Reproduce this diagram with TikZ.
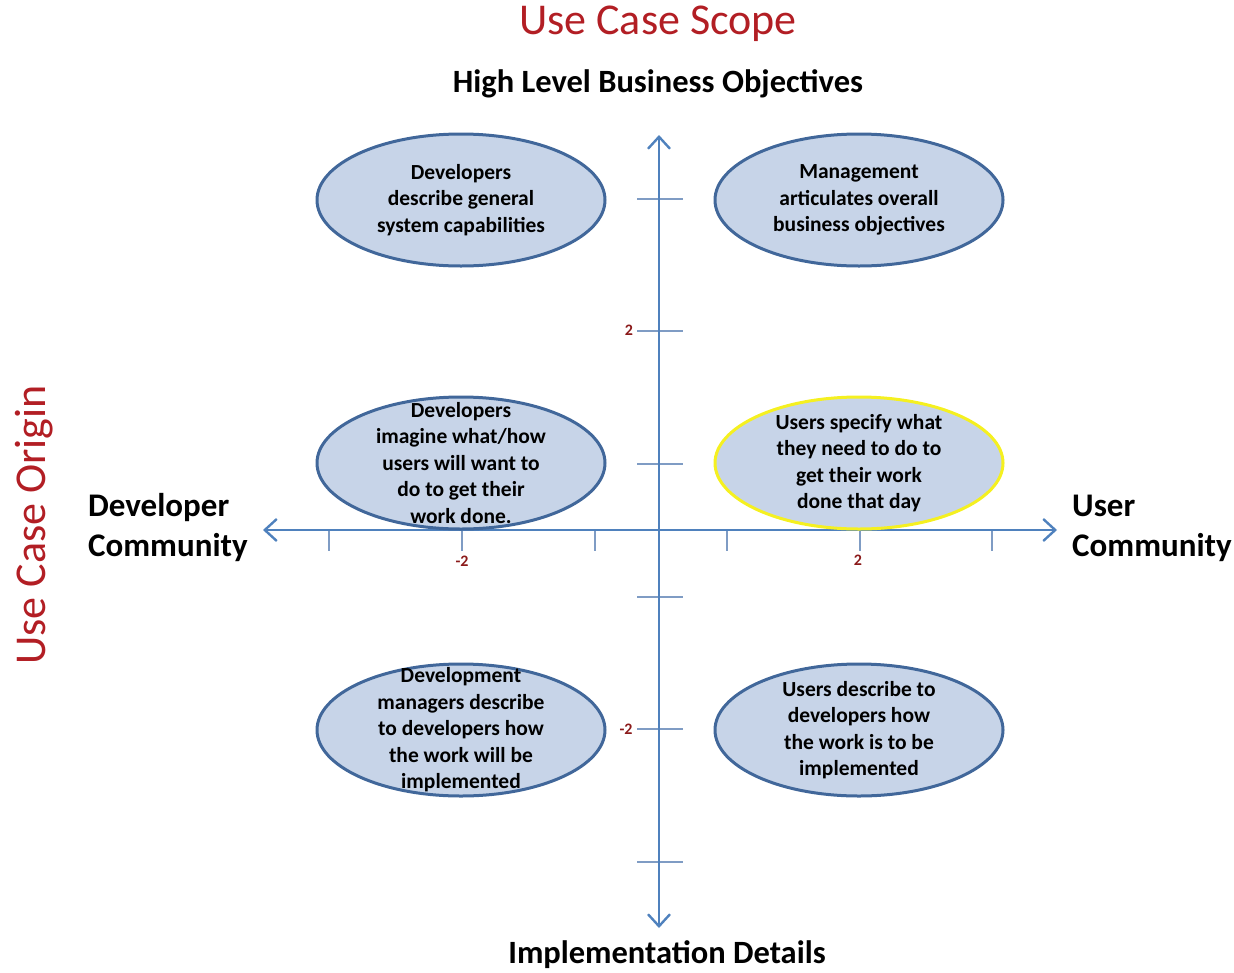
\documentclass[tikz,border=0pt]{standalone}
\usepackage{fontspec}
\setmainfont{Carlito}
\usetikzlibrary{arrows.meta,shapes.geometric}
\definecolor{axisblue}{HTML}{4F81BD}
\definecolor{tickblue}{HTML}{7F9CC4}
\definecolor{ellfill}{HTML}{C7D4E8}
\definecolor{elledge}{HTML}{41679A}
\definecolor{hilite}{HTML}{F5F020}
\definecolor{darkred}{HTML}{B21E24}
\definecolor{ticklab}{HTML}{8B1A1A}
\tikzset{
  axisline/.style={draw=axisblue, line width=2.4pt,
    {Straight Barb[length=12pt,width=22pt,line width=2.4pt]}-{Straight Barb[length=12pt,width=22pt,line width=2.4pt]}},
  tickline/.style={draw=tickblue, line width=1.3pt},
  bubble/.style={ellipse, draw=elledge, line width=3pt, fill=ellfill,
    minimum width=288pt, minimum height=132pt, inner sep=0pt},
  bubbletext/.style={align=center, font=\fontsize{21.5}{26.5}\selectfont\bfseries, text=black, inner sep=0pt},
  ticklabel/.style={font=\fontsize{16}{16}\selectfont\bfseries, text=ticklab, inner sep=0pt},
  sidelabel/.style={font=\fontsize{33}{40}\selectfont\bfseries, align=left, inner sep=0pt},
  headlabel/.style={font=\fontsize{32.5}{32.5}\selectfont\bfseries, inner sep=0pt},
  titlelabel/.style={font=\fontsize{44}{44}\selectfont, text=darkred, inner sep=0pt}
}
\begin{document}
\begin{tikzpicture}[x=1pt,y=-1pt]
\useasboundingbox (0,0) rectangle (1234,972);

% axes
\coordinate (axL) at (263,530);
\coordinate (axR) at (1057,530);
\coordinate (axT) at (659,135);
\coordinate (axB) at (659,928);

% tick marks
\foreach \tx in {329,462,595,727,860,992}
  \draw[tickline] (\tx,530) -- (\tx,551);
\foreach \ty in {199,331,464,597,729,862}
  \draw[tickline] (637,\ty) -- (683,\ty);

\draw[axisline] (axL) -- (axR);
\draw[axisline] (axB) -- (axT);

% tick labels
\node[ticklabel] (tl1) at (629,330) {2};
\node[ticklabel] (tl2) at (462,561) {-2};
\node[ticklabel] (tl3) at (858,560) {2};
\node[ticklabel] (tl4) at (626,729) {-2};

% quadrant bubbles
\node[bubble] (e1) at (461,200) {};
\node[bubble] (e2) at (859,200) {};
\node[bubble] (e3) at (461,463) {};
\node[bubble, draw=hilite] (e4) at (859,463) {};
\node[bubble] (e5) at (461,730) {};
\node[bubble] (e6) at (859,730) {};

\node[bubbletext] (t1) at (e1) {Developers\\describe general\\system capabilities};
\node[bubbletext] (t2) at (e2) {Management\\articulates overall\\business objectives};
\node[bubbletext] (t3) at (e3) {Developers\\imagine what/how\\users will want to\\do to get their\\work done.};
\node[bubbletext] (t4) at (e4) {Users specify what\\they need to do to\\get their work\\done that day};
\node[bubbletext] (t5) at (e5) {Development\\managers describe\\to developers how\\the work will be\\implemented};
\node[bubbletext] (t6) at (e6) {Users describe to\\developers how\\the work is to be\\implemented};

% axis labels
\node[titlelabel] (title) at (658,24) {Use Case Scope};
\node[headlabel] (top) at (658,84) {High Level Business Objectives};
\node[headlabel] (bottom) at (667,955) {Implementation Details};
\node[sidelabel, anchor=west] (left) at (88,528) {Developer\\Community};
\node[sidelabel, anchor=west] (right) at (1072,528) {User\\Community};
\node[titlelabel, rotate=90] (origin) at (34,525) {Use Case Origin};
\end{tikzpicture}
\end{document}
